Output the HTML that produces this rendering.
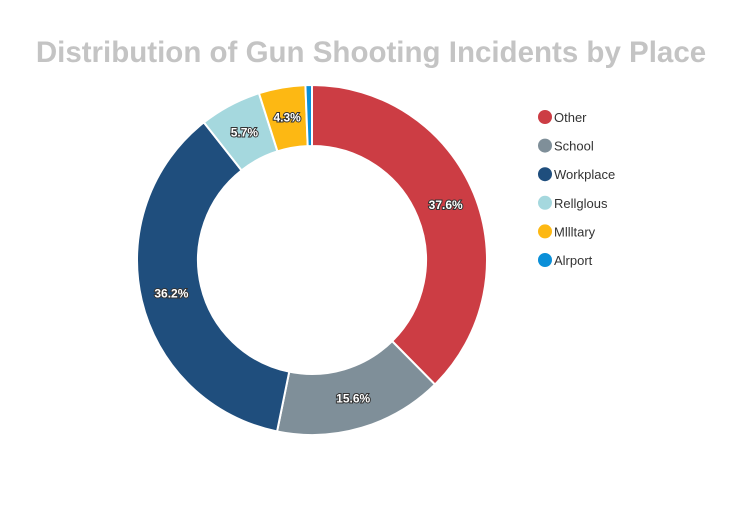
<!DOCTYPE html>
<html><head><meta charset="utf-8"><style>
body{margin:0;background:#fff;width:755px;height:502px;overflow:hidden;font-family:"Liberation Sans",sans-serif}
</style></head><body>
<svg id="chart" width="755" height="502">
<text x="371" y="62" text-anchor="middle" font-size="29.5" font-weight="bold" fill="#c4c4c4" font-family="Liberation Sans, sans-serif">Distribution of Gun Shooting Incidents by Place</text>
<g id="slices"></g><g id="labels"></g><g id="legend"></g>
</svg>
<script>
const categories=["Other","School","Workplace","Religious","Military","Airport"];
const legendLabels=["Other","School","Workplace","Rellglous","Mllltary","Alrport"];
const values=[37.6,15.6,36.2,5.7,4.3,0.6];
const colors=["#cc3d44","#7f8f99","#1f4e7d","#a5d8de","#fdb813","#0a8fd8"];
const NS="http://www.w3.org/2000/svg";
const cx=312,cy=260,R=175,r=114;
const total=values.reduce((a,b)=>a+b,0);
function pt(a,rad){return [cx+rad*Math.sin(a),cy-rad*Math.cos(a)];}
let a0=0;
const sg=document.getElementById('slices'),lg=document.getElementById('labels'),leg=document.getElementById('legend');
values.forEach((v,i)=>{
  const a1=a0+v/total*2*Math.PI;
  const large=(a1-a0)>Math.PI?1:0;
  const [x0,y0]=pt(a0,R),[x1,y1]=pt(a1,R),[x2,y2]=pt(a1,r),[x3,y3]=pt(a0,r);
  const p=document.createElementNS(NS,'path');
  p.setAttribute('d',`M${x0},${y0}A${R},${R} 0 ${large} 1 ${x1},${y1}L${x2},${y2}A${r},${r} 0 ${large} 0 ${x3},${y3}Z`);
  p.setAttribute('fill',colors[i]);p.setAttribute('stroke','#fff');p.setAttribute('stroke-width','2');
  
  
  sg.appendChild(p);
  if(v>=2){
    const [lx,ly]=pt((a0+a1)/2,(R+r)/2);
    const t=document.createElementNS(NS,'text');
    t.setAttribute('x',lx);t.setAttribute('y',ly+4);t.setAttribute('text-anchor','middle');
    t.setAttribute('font-size','12');t.setAttribute('font-weight','bold');t.setAttribute('fill','#fff');
    t.setAttribute('stroke','#333');t.setAttribute('stroke-width','2');t.setAttribute('paint-order','stroke');
    t.textContent=v.toFixed(1)+'%';
    
    
    lg.appendChild(t);
  }
  const ly=117+i*28.6;
  const c=document.createElementNS(NS,'circle');
  c.setAttribute('cx',545);c.setAttribute('cy',ly);c.setAttribute('r',7);c.setAttribute('fill',colors[i]);
  
  
  leg.appendChild(c);
  const lt=document.createElementNS(NS,'text');
  lt.setAttribute('x',554);lt.setAttribute('y',ly+5);lt.setAttribute('font-size','13');lt.setAttribute('fill','#333');
  lt.textContent=legendLabels[i];
  
  
  leg.appendChild(lt);
  a0=a1;
});
</script>
</body></html>
